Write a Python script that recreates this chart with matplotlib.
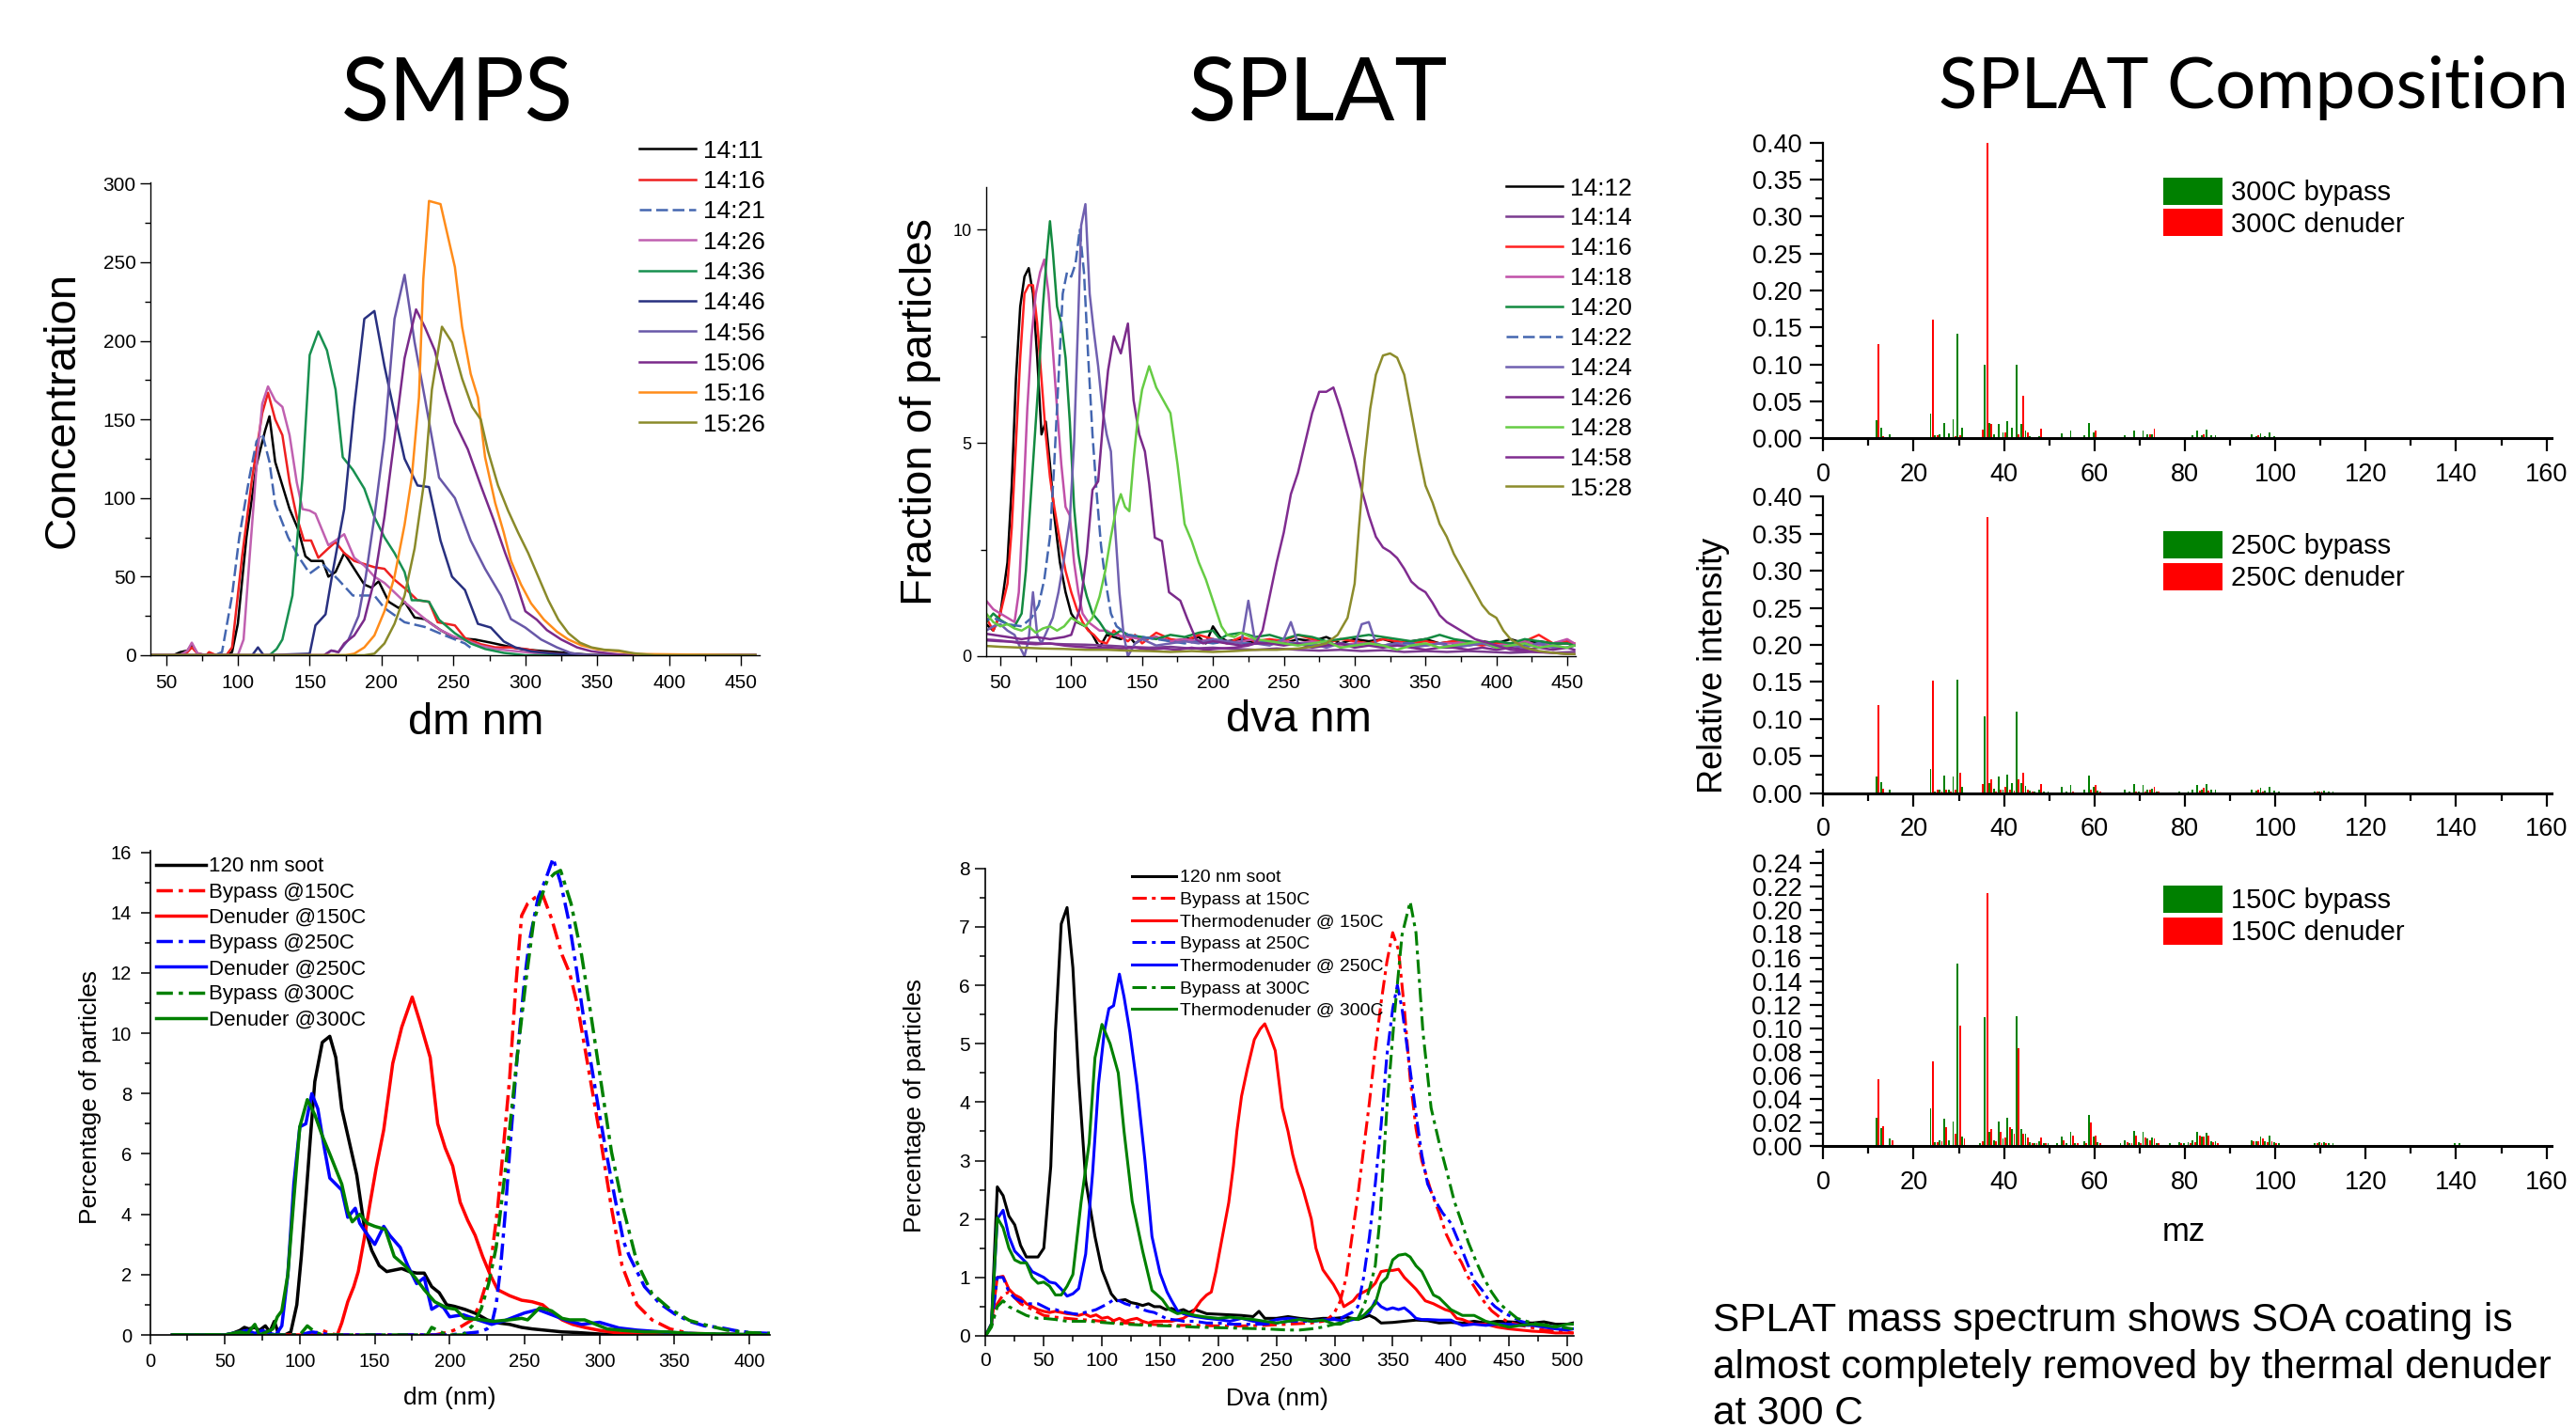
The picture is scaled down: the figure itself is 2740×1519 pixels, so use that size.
import numpy as np
import matplotlib
matplotlib.use("Agg")
import matplotlib.pyplot as plt
from matplotlib.ticker import MultipleLocator, FormatStrFormatter
from matplotlib.patches import Patch

plt.rcParams['font.family'] = ['Liberation Sans', 'DejaVu Sans']

# ======================= DATA =======================
# ---- SMPS (top-left): (dm nm, concentration) ----
smps_labels = ['14:11', '14:16', '14:21', '14:26', '14:36', '14:46', '14:56', '15:06', '15:16', '15:26']
smps_1411 = [(40,0),(55,0),(60,2),(65,3),(68,7),(72,1),(78,0),(92,0),(96,2),(100,20),(106,75),(113,121),(119,143),(122,152),
             (126,123),(131,108),(136,93),(142,80),(147,63),(151,60),(159,60),(163,50),(168,53),(174,65),(181,55),(188,45),
             (193,43),(198,47),(205,34),(212,30),(216,34),(223,24),(230,23),(241,16),(251,11),(265,10),(276,8),(286,6),
             (297,4),(308,3),(322,2),(335,1),(350,0),(460,0)]
smps_1416 = [(40,0),(60,0),(65,2),(68,5),(72,1),(78,0),(80,2),(85,0),(92,0),(96,5),(103,63),(110,113),(117,154),(121,167),
             (126,150),(131,140),(136,110),(141,88),(146,73),(151,73),(156,62),(163,68),(168,72),(174,65),(181,60),(188,58),
             (195,56),(202,55),(209,48),(217,42),(225,35),(233,34),(239,21),(251,19),(258,11),(269,7),(279,5),(289,5),
             (300,4),(311,2),(322,1),(334,0),(460,0)]
smps_1421 = [(40,0),(84,0),(89,2),(96,38),(101,75),(108,113),(113,136),(117,141),(122,123),(126,96),(135,75),(142,63),
             (150,52),(159,58),(170,48),(180,38),(188,38),(195,38),(202,30),(216,21),(230,18),(244,12.6),(258,7.5),(263,4)]
smps_1426 = [(40,0),(60,0),(65,3),(68,8),(72,1),(80,0),(100,0),(104,10),(108,60),(113,120),(117,160),(121,171),(126,162),
             (131,158),(136,140),(141,110),(145,93),(150,92),(154,90),(163,70),(168,73),(174,77),(181,62),(188,57),(195,50),
             (202,46),(209,40),(217,33),(225,27),(233,21),(241,16),(250,12),(260,9),(269,6),(279,4),(289,3),(300,2),(320,0),(460,0)]
smps_1436 = [(40,0),(122,0),(127,4),(131,10),(138,38),(145,113),(150,191),(156,206),(162,194),(168,169),(173,126),(180,118),
             (188,106),(195,88),(202,75),(209,65),(216,53),(221,35),(226,35),(233,34),(240,22.6),(251,14),(262,7.5),(272,4),
             (285,1.5),(300,0),(460,0)]
smps_1446 = [(40,0),(110,0),(114,5),(118,0),(150,1),(154,19),(161,26),(166,53),(174,93),(181,158),(188,214),(195,219),
             (202,184),(209,154),(216,125),(225,108),(233,107),(241,73),(249,50),(258,41.5),(267,20),(276,17.6),(285,8.8),
             (293,5),(304,2.5),(320,1),(340,0),(460,0)]
smps_1456 = [(40,0),(160,0),(165,3),(170,2),(177,10),(184,25),(189,50),(195,88),(202,138),(209,214),(216,242),(223,199),
             (230,164),(240,113),(251,100),(262,73),(272,55),(283,38),(290,23),(300,17.6),(311,10),(322,5),(332,1.3),(345,0),(460,0)]
smps_1506 = [(40,0),(160,0),(165,3),(170,2),(174,7.5),(181,12.6),(188,22.6),(195,48),(202,88),(209,138),(216,189),(224,220),
             (230,209),(237,194),(244,169),(251,148),(260,131),(269,108),(278,86),(286,65),(293,48),(300,28),(308,22.6),
             (315,16),(325,10),(336,5),(346,2.5),(357,1.3),(370,0),(460,0)]
smps_1516 = [(40,0),(175,0),(181,1),(188,5),(195,12.6),(202,28),(209,50),(216,83),(221,113),(226,164),(229,239),(233,289),
             (241,287),(246,267),(251,247),(256,209),(262,179),(267,164),(272,126),(279,97),(285,78),(290,60),(297,45),
             (304,33),(313,22.6),(322,15),(330,10),(339,6.3),(350,3.8),(364,2.5),(378,0.8),(460,0)]
smps_1526 = [(40,0),(188,0),(195,1),(202,7.5),(209,20),(216,38),(223,68),(230,113),(235,169),(242,209),(249,199),(256,176),
             (263,158),(269,150),(274,130),(281,108),(288,92),(295,78),(302,65),(309,50),(316,35),(323,22.6),(330,14),
             (338,8),(346,5),(355,3.5),(365,3),(375,1.3),(390,0),(460,0)]

# ---- SPLAT (top-middle): (dva nm, fraction of particles) ----
splat_labels = ['14:12', '14:14', '14:16', '14:18', '14:20', '14:22', '14:24', '14:26', '14:28', '14:58', '15:28']
splat_1412 = [(35,0.65),(40,0.75),(45,0.6),(50,1.0),(55,2.2),(58,4.0),(61,6.5),(64,8.2),(67,8.9),(70,9.1),(73,8.5),(76,7.0),
              (79,5.2),(82,5.5),(85,4.5),(88,3.3),(92,2.2),(96,1.5),(100,1.0),(104,0.8),(110,0.7),(115,0.5),(120,0.2),(125,0.5),
              (130,0.45),(135,0.4),(140,0.5),(145,0.3),(150,0.4),(160,0.45),(170,0.35),(180,0.4),(190,0.45),(195,0.3),(200,0.7),
              (205,0.45),(210,0.35),(220,0.4),(230,0.3),(240,0.35),(250,0.3),(260,0.4),(270,0.35),(280,0.45),(290,0.3),(300,0.4),
              (310,0.35),(320,0.4),(330,0.3),(340,0.35),(350,0.4),(360,0.3),(370,0.35),(380,0.3),(390,0.35),(400,0.3),(410,0.4),
              (420,0.3),(430,0.35),(440,0.3),(450,0.3),(455,0.25)]
splat_1414 = [(35,0.38),(50,0.35),(65,0.33),(80,0.3),(95,0.28),(110,0.27),(125,0.25),(140,0.22),(155,0.2),(170,0.22),(185,0.18),
              (200,0.2),(215,0.17),(230,0.15),(245,0.18),(260,0.15),(275,0.13),(290,0.15),(305,0.12),(320,0.14),(335,0.1),
              (350,0.12),(365,0.1),(380,0.12),(395,0.1),(410,0.08),(425,0.1),(440,0.08),(455,0.1)]
splat_1416 = [(35,1.2),(40,0.9),(45,0.6),(50,1.0),(55,1.7),(58,3.0),(61,5.0),(64,7.0),(67,8.5),(70,8.7),(73,8.7),(76,7.8),
              (79,6.5),(82,5.2),(85,4.2),(88,3.5),(92,2.7),(96,2.0),(100,1.5),(104,1.1),(108,0.8),(112,0.6),(116,0.5),(120,0.35),
              (125,0.3),(130,0.6),(135,0.45),(140,0.35),(145,0.5),(150,0.3),(160,0.55),(170,0.4),(180,0.35),(190,0.5),(200,0.4),
              (210,0.3),(220,0.45),(230,0.35),(240,0.4),(250,0.35),(260,0.5),(270,0.4),(280,0.3),(290,0.4),(300,0.35),(310,0.3),
              (320,0.4),(330,0.35),(340,0.3),(350,0.35),(360,0.3),(370,0.35),(380,0.3),(390,0.25),(400,0.3),(410,0.3),(420,0.35),
              (430,0.5),(440,0.3),(450,0.35),(455,0.3)]
splat_1418 = [(35,1.4),(40,1.3),(45,1.1),(50,1.0),(55,0.9),(60,0.8),(63,1.5),(66,3.5),(69,5.8),(72,7.5),(75,8.5),(78,9.0),
              (81,9.3),(84,8.5),(87,7.2),(90,5.8),(93,4.5),(96,3.5),(99,3.3),(102,2.2),(105,1.5),(108,1.0),(112,0.8),(116,0.7),
              (120,0.6),(125,0.6),(130,0.5),(140,0.45),(150,0.4),(160,0.45),(170,0.35),(180,0.4),(190,0.35),(200,0.4),(210,0.3),
              (220,0.35),(230,0.4),(240,0.3),(250,0.35),(260,0.3),(270,0.35),(280,0.3),(290,0.25),(300,0.3),(310,0.3),(320,0.25),
              (330,0.3),(340,0.3),(350,0.25),(360,0.3),(370,0.3),(380,0.35),(390,0.3),(400,0.25),(410,0.3),(420,0.35),(430,0.25),
              (440,0.3),(450,0.4),(455,0.3)]
splat_1420 = [(35,0.7),(40,0.8),(45,1.0),(50,0.85),(55,0.75),(60,0.7),(65,1.0),(68,2.0),(71,3.5),(74,5.0),(77,6.5),(80,8.2),
              (83,9.5),(85,10.2),(87,9.5),(90,8.2),(93,7.8),(96,7.0),(99,5.5),(102,3.5),(105,2.4),(108,1.8),(111,1.4),(115,1.0),
              (120,0.8),(125,0.55),(130,0.5),(135,0.6),(140,0.5),(150,0.45),(160,0.4),(170,0.5),(180,0.45),(190,0.55),(200,0.6),
              (205,0.4),(210,0.5),(220,0.55),(230,0.45),(240,0.5),(250,0.4),(260,0.5),(270,0.45),(280,0.35),(290,0.4),(300,0.45),
              (310,0.5),(320,0.45),(330,0.4),(340,0.35),(350,0.4),(360,0.5),(370,0.4),(380,0.35),(390,0.3),(400,0.35),(410,0.3),
              (420,0.4),(430,0.35),(440,0.3),(450,0.3),(455,0.25)]
splat_1422 = [(35,0.8),(45,0.9),(55,0.75),(65,0.7),(72,0.9),(77,1.2),(81,1.8),(85,2.8),(88,4.5),(91,6.5),(94,8.5),(97,9.0),
              (100,8.9),(103,9.2),(106,10.0),(109,9.0),(112,7.0),(115,5.2),(118,3.8),(121,2.6),(124,1.8),(128,1.0),(132,0.7),
              (136,0.6),(140,0.5),(150,0.45),(160,0.4),(170,0.35),(180,0.3),(190,0.35),(200,0.3),(210,0.35),(220,0.3),(230,0.3),
              (240,0.35),(250,0.3),(260,0.3),(270,0.25),(280,0.3),(290,0.3),(300,0.25),(310,0.3),(320,0.25),(330,0.3),(340,0.3),
              (350,0.25),(360,0.3),(370,0.25),(380,0.25),(390,0.3),(400,0.25),(410,0.2),(420,0.25),(430,0.3),(440,0.25),
              (450,0.2),(455,0.25)]
splat_1424 = [(35,0.8),(40,0.6),(45,0.7),(50,0.75),(55,0.6),(60,0.5),(64,0.2),(67,0.0),(70,0.4),(73,1.5),(76,0.5),(79,0.3),
              (83,0.6),(87,0.9),(91,1.5),(95,2.3),(99,3.2),(102,5.0),(105,8.0),(107,10.1),(110,10.6),(113,8.5),(116,7.6),
              (119,6.8),(122,5.8),(125,5.2),(128,4.8),(131,3.0),(134,1.5),(137,0.5),(140,0.0),(145,0.3),(150,0.4),(160,0.25),
              (170,0.3),(180,0.35),(190,0.3),(200,0.4),(210,0.35),(220,0.3),(225,1.3),(230,0.3),(240,0.25),(250,0.4),(255,0.8),
              (260,0.3),(270,0.3),(280,0.2),(290,0.3),(300,0.25),(305,0.75),(310,0.8),(315,0.3),(320,0.25),(330,0.3),(340,0.2),
              (350,0.25),(360,0.3),(370,0.2),(380,0.25),(390,0.3),(400,0.2),(410,0.25),(420,0.2),(430,0.3),(440,0.2),(450,0.2),
              (455,0.25)]
splat_1426 = [(35,0.55),(45,0.5),(55,0.45),(65,0.4),(75,0.45),(85,0.4),(95,0.45),(100,0.5),(106,1.1),(111,2.4),(115,3.9),
              (119,4.1),(123,5.7),(126,6.7),(130,7.5),(135,7.1),(140,7.8),(144,6.0),(148,5.2),(152,4.8),(155,4.05),(159,2.78),
              (164,2.7),(169,1.5),(173,1.4),(177,1.3),(182,0.87),(188,0.4),(193,0.3),(200,0.35),(210,0.3),(220,0.25),(230,0.3),
              (240,0.3),(250,0.25),(260,0.3),(270,0.2),(280,0.25),(290,0.3),(300,0.2),(310,0.25),(320,0.2),(330,0.25),(340,0.2),
              (350,0.15),(360,0.2),(370,0.2),(380,0.15),(390,0.2),(400,0.15),(410,0.2),(420,0.15),(430,0.2),(440,0.15),(450,0.2),
              (455,0.15)]
splat_1428 = [(35,1.2),(40,1.0),(45,0.8),(50,0.7),(55,0.75),(60,0.65),(65,0.6),(70,0.7),(75,0.55),(80,0.65),(85,0.7),(90,0.6),
              (95,0.7),(100,0.9),(105,0.8),(110,0.7),(115,0.9),(120,1.4),(124,2.0),(128,2.8),(132,3.5),(135,3.8),(138,3.5),
              (141,3.4),(144,4.6),(147,5.6),(150,6.25),(155,6.8),(160,6.3),(165,6.0),(170,5.7),(175,4.5),(180,3.1),(185,2.7),
              (190,2.2),(195,1.8),(200,1.3),(206,0.7),(210,0.5),(215,0.45),(220,0.55),(230,0.4),(240,0.35),(250,0.3),(260,0.25),
              (270,0.3),(280,0.35),(290,0.2),(300,0.25),(310,0.3),(320,0.25),(330,0.15),(340,0.25),(350,0.3),(360,0.2),(370,0.25),
              (380,0.3),(390,0.35),(400,0.2),(410,0.25),(420,0.3),(430,0.2),(440,0.25),(450,0.2),(455,0.25)]
splat_1458 = [(35,0.4),(45,0.38),(55,0.35),(65,0.3),(75,0.28),(85,0.3),(95,0.25),(105,0.22),(115,0.2),(125,0.2),(135,0.18),
              (145,0.2),(155,0.15),(165,0.18),(175,0.15),(185,0.2),(195,0.15),(205,0.18),(215,0.2),(225,0.25),(230,0.3),(235,0.6),
              (240,1.4),(245,2.2),(250,2.9),(255,3.8),(260,4.3),(265,5.0),(270,5.7),(275,6.2),(280,6.2),(285,6.3),(290,5.8),
              (295,5.2),(300,4.6),(305,3.9),(310,3.3),(315,2.8),(320,2.55),(325,2.45),(330,2.3),(335,2.05),(340,1.75),(345,1.6),
              (350,1.5),(355,1.25),(360,0.96),(365,0.8),(370,0.7),(375,0.6),(380,0.5),(385,0.4),(390,0.35),(400,0.25),(410,0.15),
              (420,0.12),(430,0.1),(440,0.08),(450,0.05),(455,0.05)]
splat_1528 = [(35,0.25),(50,0.22),(65,0.2),(80,0.18),(95,0.17),(110,0.15),(125,0.15),(140,0.13),(155,0.12),(170,0.1),(185,0.12),
              (200,0.1),(215,0.12),(230,0.15),(245,0.15),(260,0.18),(270,0.22),(280,0.3),(288,0.5),(295,0.9),(300,1.7),(303,3.0),
              (307,4.6),(311,5.8),(315,6.6),(320,7.05),(325,7.1),(330,7.0),(335,6.6),(340,5.7),(345,4.8),(350,4.0),(355,3.6),
              (360,3.1),(365,2.8),(370,2.4),(375,2.1),(380,1.8),(385,1.5),(390,1.2),(395,1.0),(400,0.9),(405,0.6),(410,0.4),
              (415,0.3),(420,0.2),(430,0.12),(440,0.08),(450,0.05),(455,0.05)]

# ---- Bottom-left: SMPS thermodenuder (dm nm, percentage of particles) ----
bl_labels = ['120 nm soot', 'Bypass @150C', 'Denuder @150C', 'Bypass @250C', 'Denuder @250C', 'Bypass @300C', 'Denuder @300C']
bl_soot = [(15,0),(50,0),(55,0.05),(60,0.15),(63,0.25),(66,0.2),(70,0.25),(73,0.15),(77,0.3),(80,0.1),(83,0.45),(86,0.0),
           (90,0.0),(94,0.1),(98,1.0),(101,2.6),(104,4.5),(107,6.5),(110,8.4),(115,9.7),(120,9.9),(124,9.2),(128,7.5),(133,6.4),
           (138,5.3),(143,3.6),(148,2.8),(153,2.3),(158,2.1),(163,2.15),(168,2.2),(173,2.1),(178,2.05),(183,2.05),(188,1.6),
           (193,1.4),(198,1.0),(203,0.95),(210,0.85),(218,0.7),(225,0.5),(232,0.4),(240,0.35),(248,0.25),(255,0.2),(265,0.15),
           (275,0.1),(285,0.08),(300,0.03),(320,0),(414,0)]
bl_byp150 = [(15,0),(100,0),(110,0.05),(115,0.15),(120,0.05),(125,0),(190,0),(200,0.1),(205,0.2),(210,0.35),(215,0.5),
             (220,1.0),(225,1.8),(228,2.6),(232,4.2),(236,6.3),(240,8.5),(244,11.5),(248,13.9),(252,14.3),(257,14.5),(262,14.6),
             (268,13.8),(275,12.6),(280,12.0),(285,11.0),(292,9.0),(300,6.7),(308,4.2),(315,2.3),(325,1.0),(335,0.5),(347,0.2),
             (360,0.05),(380,0.03),(414,0.02)]
bl_den150 = [(15,0),(120,0),(125,0.0),(128,0.4),(132,1.1),(136,1.6),(139,2.1),(143,3.2),(147,4.4),(151,5.55),(156,6.8),
             (162,9.0),(168,10.2),(175,11.2),(180,10.4),(187,9.2),(192,7.0),(197,6.2),(202,5.6),(207,4.4),(212,3.8),(217,3.3),
             (222,2.6),(227,2.0),(232,1.5),(240,1.3),(248,1.15),(255,1.1),(262,1.0),(268,0.75),(275,0.5),(282,0.35),(290,0.25),
             (300,0.15),(310,0.08),(320,0.04),(330,0.02),(340,0),(414,0)]
bl_byp250 = [(15,0),(100,0),(108,0.1),(115,0.05),(120,0),(200,0),(210,0.05),(220,0.1),(225,0.2),(228,0.35),(231,1.0),
             (234,2.25),(237,4.0),(240,6.06),(245,9.2),(250,11.8),(253,13.0),(259,14.5),(264,15.1),(269,15.8),(274,15.0),
             (280,13.6),(285,12.0),(290,10.3),(295,8.8),(300,7.3),(305,5.9),(310,4.6),(316,3.1),(320,2.6),(330,1.6),(340,1.05),
             (350,0.7),(360,0.45),(370,0.3),(380,0.25),(390,0.15),(400,0.08),(414,0.05)]
bl_den250 = [(15,0),(50,0),(55,0.05),(60,0.1),(65,0.15),(70,0.05),(75,0.15),(80,0.05),(84,0.0),(88,0.3),(92,2.0),(96,5.0),
             (100,6.9),(104,7.0),(108,8.0),(112,7.5),(116,6.3),(120,5.2),(124,5.0),(128,4.8),(132,3.9),(137,4.2),(140,3.7),
             (144,3.4),(150,3.0),(156,3.6),(160,3.3),(167,2.9),(172,2.3),(178,1.7),(183,1.9),(188,0.85),(193,1.0),(196,0.9),
             (200,0.6),(209,0.67),(220,0.48),(228,0.35),(237,0.48),(250,0.73),(259,0.84),(268,0.67),(278,0.48),(288,0.35),
             (300,0.42),(313,0.23),(325,0.16),(347,0.08),(370,0.03),(414,0)]
bl_byp300 = [(15,0),(100,0),(105,0.3),(110,0.1),(115,0),(185,0),(188,0.25),(192,0.15),(196,0.05),(200,0.0),(209,0.0),
             (215,0.3),(221,0.86),(226,1.7),(231,2.9),(237,5.4),(241,7.3),(245,9.2),(251,11.8),(256,13.7),(261,14.5),
             (265,15.05),(270,15.3),(274,15.4),(281,14.3),(288,12.6),(294,10.7),(300,8.7),(308,6.06),(316,4.16),(325,2.4),
             (335,1.37),(347,0.86),(360,0.48),(373,0.3),(385,0.16),(398,0.08),(414,0.05)]
bl_den300 = [(15,0),(50,0),(55,0.05),(60,0.1),(65,0.05),(70,0.35),(73,0.0),(78,0.1),(82,0.2),(85,0.6),(88,0.8),(92,2.0),
             (96,4.5),(100,6.9),(105,7.8),(110,7.3),(115,6.6),(120,6.0),(128,5.0),(132,4.1),(135,3.75),(140,4.0),(145,3.7),
             (150,3.6),(157,3.5),(163,2.6),(170,2.3),(177,1.9),(183,1.5),(190,1.1),(198,0.9),(204,0.85),(210,0.55),(222,0.5),
             (229,0.45),(240,0.5),(248,0.55),(252,0.5),(260,0.9),(268,0.8),(275,0.55),(280,0.5),(290,0.5),(300,0.3),(305,0.2),
             (315,0.15),(330,0.1),(345,0.1),(360,0.05),(414,0)]

# ---- Bottom-middle: SPLAT thermodenuder (Dva nm, percentage of particles) ----
bm_labels = ['120 nm soot', 'Bypass at 150C', 'Thermodenuder @ 150C', 'Bypass at 250C',
             'Thermodenuder @ 250C', 'Bypass at 300C', 'Thermodenuder @ 300C']
bm_soot = [(0,0),(5,0.2),(10,2.55),(15,2.4),(20,2.05),(25,1.9),(30,1.55),(35,1.35),(40,1.35),(45,1.35),(50,1.5),(56,2.9),
           (60,5.2),(65,7.05),(70,7.33),(75,6.3),(80,4.4),(86,2.66),(94,1.7),(100,1.13),(108,0.72),(113,0.6),(120,0.62),
           (125,0.57),(130,0.55),(135,0.52),(140,0.55),(145,0.5),(150,0.5),(155,0.45),(160,0.47),(165,0.42),(170,0.45),
           (175,0.4),(180,0.45),(190,0.38),(200,0.37),(210,0.36),(220,0.35),(230,0.33),(235,0.42),(240,0.3),(250,0.3),
           (260,0.33),(270,0.3),(280,0.28),(290,0.3),(300,0.3),(310,0.32),(320,0.28),(330,0.35),(335,0.3),(340,0.22),
           (350,0.23),(360,0.25),(370,0.27),(380,0.26),(390,0.22),(400,0.23),(410,0.22),(420,0.25),(430,0.22),(440,0.25),
           (450,0.24),(460,0.23),(470,0.22),(480,0.24),(490,0.2),(500,0.2),(505,0.22)]
bm_byp150 = [(0,0),(5,0.2),(10,0.55),(15,0.7),(20,0.75),(25,0.65),(30,0.55),(35,0.5),(40,0.45),(45,0.4),(50,0.35),(60,0.32),
             (70,0.3),(80,0.28),(90,0.27),(100,0.25),(120,0.22),(140,0.2),(160,0.18),(180,0.18),(200,0.17),(220,0.17),
             (240,0.18),(260,0.2),(280,0.22),(290,0.25),(295,0.3),(300,0.4),(305,0.6),(310,1.0),(315,1.7),(320,2.4),(325,3.2),
             (330,4.0),(335,4.9),(340,5.7),(345,6.4),(350,6.9),(355,6.6),(360,5.6),(365,4.4),(370,3.55),(375,3.0),(383,2.47),
             (390,2.1),(396,1.74),(403,1.45),(409,1.26),(415,1.0),(422,0.78),(428,0.6),(435,0.43),(442,0.32),(449,0.24),
             (460,0.18),(470,0.14),(480,0.1),(490,0.08),(500,0.06),(505,0.05)]
bm_den150 = [(0,0),(5,0.2),(10,1.0),(15,1.02),(20,0.8),(25,0.7),(30,0.65),(35,0.55),(40,0.5),(45,0.45),(50,0.42),(55,0.4),
             (60,0.42),(65,0.4),(70,0.38),(75,0.37),(80,0.35),(85,0.38),(90,0.33),(95,0.36),(100,0.3),(105,0.32),(110,0.26),
             (115,0.3),(120,0.25),(125,0.28),(130,0.3),(135,0.25),(140,0.22),(145,0.25),(150,0.25),(160,0.25),(170,0.3),
             (178,0.4),(185,0.6),(190,0.7),(194,0.75),(198,1.1),(203,1.64),(209,2.28),(213,2.9),(216,3.5),(220,4.1),(225,4.57),
             (231,5.07),(236,5.25),(240,5.34),(245,5.1),(249,4.88),(255,3.9),(260,3.5),(264,3.1),(268,2.8),(273,2.5),(280,2.0),
             (284,1.5),(290,1.13),(299,0.88),(304,0.7),(308,0.5),(312,0.55),(316,0.6),(320,0.7),(325,0.75),(330,0.8),(335,0.9),
             (340,1.1),(345,1.12),(350,1.12),(355,1.14),(360,1.0),(365,0.9),(370,0.8),(378,0.6),(385,0.55),(390,0.5),
             (395,0.45),(400,0.42),(405,0.3),(410,0.28),(420,0.2),(430,0.2),(440,0.15),(450,0.12),(460,0.1),(470,0.08),
             (480,0.07),(490,0.05),(500,0.05),(505,0.05)]
bm_byp250 = [(0,0),(5,0.2),(10,1.0),(15,1.0),(20,0.75),(25,0.65),(30,0.6),(35,0.55),(40,0.55),(45,0.55),(50,0.5),(55,0.45),
             (60,0.45),(65,0.42),(70,0.4),(75,0.38),(80,0.37),(85,0.4),(90,0.42),(95,0.45),(100,0.5),(105,0.55),(110,0.62),
             (115,0.6),(120,0.55),(125,0.52),(130,0.5),(135,0.45),(140,0.42),(145,0.4),(150,0.35),(155,0.3),(160,0.28),
             (165,0.27),(170,0.25),(180,0.25),(190,0.22),(200,0.22),(210,0.2),(220,0.2),(230,0.2),(240,0.2),(250,0.22),
             (260,0.25),(270,0.25),(280,0.25),(290,0.27),(300,0.3),(305,0.3),(310,0.35),(315,0.4),(320,0.5),(325,1.0),(330,1.7),
             (335,2.6),(340,3.6),(345,4.8),(350,5.6),(354,6.0),(358,5.6),(362,5.0),(366,4.4),(370,3.8),(375,3.1),(380,2.6),
             (387,2.3),(393,2.1),(400,1.93),(407,1.6),(413,1.3),(420,0.95),(427,0.78),(433,0.6),(438,0.5),(445,0.4),(450,0.35),
             (460,0.25),(470,0.2),(480,0.18),(490,0.15),(500,0.12),(505,0.12)]
bm_den250 = [(0,0),(5,0.2),(10,2.0),(15,2.15),(20,1.7),(25,1.45),(30,1.35),(35,1.25),(40,1.1),(45,1.05),(50,1.0),(55,0.92),
             (60,0.9),(65,0.8),(70,0.68),(75,0.72),(80,0.81),(86,1.4),(92,2.8),(97,4.3),(102,5.2),(106,5.6),(110,5.65),(115,6.19),
             (119,5.8),(124,5.2),(130,4.3),(137,3.0),(143,1.7),(150,1.07),(156,0.75),(160,0.6),(165,0.43),(170,0.38),(175,0.35),
             (180,0.33),(190,0.3),(200,0.28),(210,0.25),(220,0.3),(230,0.25),(240,0.22),(250,0.28),(260,0.3),(270,0.28),
             (280,0.25),(290,0.27),(300,0.28),(310,0.25),(320,0.3),(325,0.35),(330,0.4),(335,0.6),(340,0.5),(345,0.45),
             (350,0.48),(355,0.45),(360,0.48),(365,0.4),(370,0.3),(375,0.28),(380,0.28),(390,0.27),(400,0.27),(405,0.22),
             (410,0.18),(420,0.2),(430,0.18),(440,0.2),(450,0.2),(460,0.18),(470,0.18),(480,0.15),(490,0.12),(500,0.1),(505,0.12)]
bm_byp300 = [(0,0),(5,0.15),(10,0.5),(15,0.6),(20,0.5),(25,0.45),(30,0.4),(35,0.35),(40,0.32),(45,0.3),(50,0.3),(60,0.28),
             (70,0.25),(80,0.25),(90,0.25),(100,0.23),(120,0.2),(140,0.18),(160,0.17),(180,0.15),(200,0.14),(220,0.13),
             (240,0.12),(260,0.1),(270,0.1),(280,0.12),(290,0.15),(300,0.2),(310,0.25),(320,0.3),(325,0.5),(330,0.8),(335,1.2),
             (339,2.0),(345,3.9),(352,5.6),(358,6.86),(365,7.43),(370,6.9),(376,5.2),(383,3.9),(390,3.3),(396,2.85),(403,2.3),
             (409,1.96),(415,1.6),(422,1.26),(428,1.0),(435,0.75),(442,0.55),(449,0.43),(457,0.3),(465,0.25),(475,0.2),
             (485,0.18),(495,0.15),(505,0.12)]
bm_den300 = [(0,0),(5,0.2),(10,2.02),(15,1.85),(20,1.5),(25,1.3),(30,1.25),(35,1.25),(40,1.0),(45,0.9),(50,0.92),(55,0.85),
             (60,0.7),(65,0.7),(70,0.85),(75,1.05),(82,2.28),(89,3.3),(94,4.76),(100,5.33),(107,5.0),(114,4.5),(119,3.5),
             (126,2.3),(135,1.45),(143,0.78),(152,0.62),(158,0.45),(165,0.38),(170,0.4),(180,0.35),(190,0.32),(200,0.3),
             (210,0.32),(220,0.3),(230,0.28),(240,0.25),(250,0.22),(260,0.25),(270,0.28),(280,0.25),(290,0.27),(300,0.2),
             (305,0.2),(310,0.25),(315,0.3),(320,0.28),(325,0.35),(330,0.45),(335,0.55),(340,0.9),(345,1.0),(350,1.3),(355,1.38),
             (361,1.4),(365,1.35),(370,1.2),(375,1.1),(380,0.9),(385,0.7),(390,0.65),(395,0.55),(400,0.45),(405,0.4),(410,0.35),
             (420,0.35),(425,0.3),(430,0.25),(440,0.2),(450,0.15),(460,0.18),(470,0.2),(480,0.18),(490,0.15),(500,0.2),(505,0.2)]

# ---- SPLAT composition mass spectra (right) ----
mz = list(range(12, 20)) + list(range(24, 102)) + list(range(109, 114)) + [125, 127, 140, 141]
ms_labels = [('300C bypass', '300C denuder'), ('250C bypass', '250C denuder'), ('150C bypass', '150C denuder')]
byp300 = ([.024,.015,.002,.006,.001,0,.001,0] +
          [.033,.004,.005,.021,.007,.026,.141,.015,.001,.001] + [.001,.002,.099,.021,.005,.020,.008,.023,.015,.100] +
          [.020,.011,.003,.001,.003,.002,.001,.001,.001,.007] + [.002,.011,.002,.001,.004,.021,.008,.002,.001,.001] +
          [.001,.001,.001,.004,.002,.010,.002,.010,.005,.006] + [.002,.001,.001,.001,.001,.002,.001,.002,.004,.011] +
          [.004,.012,.004,.004,.001,.001,.001,.001,.001,.001] + [.001,.005,.003,.007,.003,.008,.003,.002] +
          [.002,.001,.002,.001,.002] + [.001,.001,.001,.001])
den300 = ([.127,.003,0,.001,0,0,0,0] +
          [.161,.004,.002,.001,.001,.003,.004,.001,0,0] + [.001,.012,.400,.019,.001,.002,.008,.002,.002,.005] +
          [.058,.008,.002,.001,.013,.001,.001,0,0,.001] + [.001,.001,.001,0,.001,.002,.010,.002,.001,0] +
          [0,0,0,.001,.001,.001,.001,.002,.006,.013] + [.002,.001,0,0,.001,0,0,0,.001,.002] +
          [.006,.002,.001,0,0,0,0,0,0,0] + [0,.001,.004,.002,.001,.001,.001,0] +
          [0,.001,0,0,0] + [0,0,0,0])
byp250 = ([.022,.015,.001,.005,.001,0,.001,.001] +
          [.032,.002,.005,.024,.005,.022,.153,.009,.001,.001] + [.001,.001,.104,.013,.006,.022,.005,.025,.014,.110] +
          [.014,.010,.003,.002,.004,.002,.002,.001,.001,.008] + [.002,.011,.001,.001,.004,.024,.008,.003,.001,.001] +
          [.001,.001,.001,.004,.002,.012,.002,.011,.004,.006] + [.002,.001,.001,.001,.001,.002,.001,.002,.004,.011] +
          [.004,.012,.004,.004,.001,.001,.001,.001,.001,.001] + [.001,.005,.003,.007,.003,.008,.003,.002] +
          [.002,.002,.003,.002,.002] + [.001,.001,.001,.001])
den250 = ([.119,.006,.001,.001,0,0,0,0] +
          [.152,.004,.002,.004,.002,.004,.028,.001,0,0] + [0,.012,.372,.019,.002,.004,.008,.004,.003,.018] +
          [.028,.005,.002,.001,.012,.001,.001,0,0,.001] + [.001,.002,.001,0,.001,.004,.011,.002,.001,0] +
          [0,0,0,.001,.001,.002,.001,.002,.005,.009] + [.002,.001,0,0,.001,0,0,0,.001,.003] +
          [.007,.003,.001,0,0,0,0,0,0,0] + [0,.001,.004,.002,.001,.001,.001,0] +
          [.002,.002,.001,.001,.001] + [.001,.001,0,0])
byp150 = ([.024,.015,.001,.006,.001,.001,.001,.001] +
          [.032,.003,.005,.023,.005,.021,.155,.008,.001,.001] + [.001,.002,.109,.012,.005,.021,.006,.024,.014,.110] +
          [.014,.010,.003,.002,.004,.002,.002,.001,.002,.008] + [.002,.012,.002,.001,.004,.026,.008,.003,.001,.001] +
          [.001,.001,.002,.005,.002,.013,.003,.012,.006,.007] + [.002,.001,.001,.002,.001,.003,.002,.003,.005,.012] +
          [.008,.011,.004,.004,.001,.001,.001,.001,.001,.001] + [.001,.005,.004,.008,.004,.009,.003,.002] +
          [.002,.003,.003,.002,.002] + [.001,.001,.002,.002])
den150 = ([.057,.017,.001,.005,.001,.001,.001,.001] +
          [.072,.003,.004,.016,.001,.010,.102,.006,.001,.001] + [.001,.004,.215,.014,.004,.012,.007,.016,.010,.083] +
          [.010,.007,.002,.002,.007,.002,.001,.001,.001,.005] + [.001,.009,.002,.001,.002,.020,.009,.002,.001,.001] +
          [.001,.001,.001,.003,.002,.009,.002,.007,.005,.006] + [.002,.001,.001,.001,.001,.002,.001,.002,.003,.009] +
          [.008,.009,.003,.002,.001,.001,.001,.001,.001,.001] + [.001,.004,.004,.006,.003,.004,.002,.001] +
          [.002,.002,.002,.001,.001] + [.001,.001,.001,.001])

# ======================= FIGURE =======================
W, H = 2740, 1519
fig = plt.figure(figsize=(W / 100, H / 100), dpi=100)


def rect(l, r, t, b):
    return [l / W, 1 - b / H, (r - l) / W, (b - t) / H]


def fxy(x, y):
    return x / W, 1 - y / H


def style(ax, spine_lw, maj, mnr, tw, lsize, padx, pady):
    for s in ('top', 'right'):
        ax.spines[s].set_visible(False)
    for s in ('left', 'bottom'):
        ax.spines[s].set_linewidth(spine_lw)
    ax.tick_params(which='major', direction='out', length=maj, width=tw, labelsize=lsize)
    ax.tick_params(which='minor', direction='out', length=mnr, width=tw)
    ax.tick_params(axis='x', which='major', pad=padx)
    ax.tick_params(axis='y', which='major', pad=pady)


def xy(pts):
    return [p[0] for p in pts], [p[1] for p in pts]


# ---------- Titles ----------
fig.text(*fxy(486, 128), 'SMPS', fontsize=68, family=['Lato', 'DejaVu Sans'], ha='center', va='baseline')
fig.text(*fxy(1402, 128), 'SPLAT', fontsize=68, family=['Lato', 'DejaVu Sans'], ha='center', va='baseline')
fig.text(*fxy(2397, 115), 'SPLAT Composition', fontsize=55, family=['Lato', 'DejaVu Sans'], ha='center', va='baseline')

# ---------- Top-left SMPS ----------
ax1 = fig.add_axes(rect(160.3, 808, 193.7, 697))
smps_series = [smps_1411, smps_1416, smps_1421, smps_1426, smps_1436, smps_1446, smps_1456, smps_1506, smps_1516, smps_1526]
smps_colors = ['#000000', '#ee2020', '#4466b0', '#c060b0', '#189050', '#283080', '#6858a8', '#7a2a8a', '#ff8c1a', '#8a8a2a']
h1 = []
for pts, c, lab in zip(smps_series, smps_colors, smps_labels):
    x, y = xy(pts)
    ls = (0, (5, 2)) if lab == '14:21' else '-'
    ln, = ax1.plot(x, y, color=c, lw=1.8, ls=ls, label=lab)
    h1.append(ln)
ax1.set_xlim(39.4, 463)
ax1.set_ylim(0, 301)
ax1.xaxis.set_major_locator(MultipleLocator(50))
ax1.xaxis.set_minor_locator(MultipleLocator(25))
ax1.yaxis.set_major_locator(MultipleLocator(50))
ax1.yaxis.set_minor_locator(MultipleLocator(25))
style(ax1, 1.0, 8, 4.5, 1.0, 15, 6.5, 3.2)
ax1.legend(handles=h1, loc='upper left', bbox_to_anchor=fxy(679.5, 148.7), bbox_transform=fig.transFigure,
           frameon=False, fontsize=19, handlelength=2.3, handletextpad=0.3, labelspacing=0.315,
           borderpad=0, borderaxespad=0)
fig.text(*fxy(67, 436), 'Concentration', fontsize=34, rotation=90, ha='center', va='center')
fig.text(*fxy(506, 781), 'dm nm', fontsize=34, ha='center', va='baseline')

# ---------- Top-middle SPLAT ----------
ax2 = fig.add_axes(rect(1048.7, 1676, 199, 698))
splat_series = [splat_1412, splat_1414, splat_1416, splat_1418, splat_1420, splat_1422, splat_1424, splat_1426,
                splat_1428, splat_1458, splat_1528]
splat_colors = ['#000000', '#7a3b8f', '#ff2020', '#c050a8', '#138a40', '#4466b0', '#7060b0', '#7a2a8a',
                '#66cc44', '#802c90', '#8c8c2c']
h2 = []
for pts, c, lab in zip(splat_series, splat_colors, splat_labels):
    x, y = xy(pts)
    ls = (0, (5, 2)) if lab == '14:22' else '-'
    ln, = ax2.plot(x, y, color=c, lw=1.8, ls=ls, label=lab)
    h2.append(ln)
ax2.set_xlim(39.8, 456)
ax2.set_ylim(0, 11.0)
ax2.xaxis.set_major_locator(MultipleLocator(50))
ax2.xaxis.set_minor_locator(MultipleLocator(25))
ax2.yaxis.set_major_locator(MultipleLocator(5))
ax2.yaxis.set_minor_locator(MultipleLocator(2.5))
style(ax2, 1.0, 7, 4, 1.0, 15, 7, 4)
ax2.tick_params(axis='y', labelsize=13)
ax2.legend(handles=h2, loc='upper left', bbox_to_anchor=fxy(1601.7, 188.5), bbox_transform=fig.transFigure,
           frameon=False, fontsize=19, handlelength=2.3, handletextpad=0.3, labelspacing=0.30,
           borderpad=0, borderaxespad=0)
fig.text(*fxy(979, 438), 'Fraction of particles', fontsize=34, rotation=90, ha='center', va='center')
fig.text(*fxy(1381, 778), 'dva nm', fontsize=34, ha='center', va='baseline')

# ---------- Bottom-left SMPS thermodenuder ----------
DD = (0, (5, 1.8, 1.3, 1.8))
ax3 = fig.add_axes(rect(159.5, 818.8, 905, 1420))
bl_series = [bl_soot, bl_byp150, bl_den150, bl_byp250, bl_den250, bl_byp300, bl_den300]
bl_colors = ['#000000', '#ff0000', '#ff0000', '#0000ff', '#0000ff', '#008000', '#008000']
bl_styles = ['-', DD, '-', DD, '-', DD, '-']
h3 = []
for pts, c, s, lab in zip(bl_series, bl_colors, bl_styles, bl_labels):
    x, y = xy(pts)
    ln, = ax3.plot(x, y, color=c, lw=2.5, ls=s, label=lab)
    h3.append(ln)
ax3.set_xlim(0, 413.6)
ax3.set_ylim(0, 16.05)
ax3.xaxis.set_major_locator(MultipleLocator(50))
ax3.xaxis.set_minor_locator(MultipleLocator(25))
ax3.yaxis.set_major_locator(MultipleLocator(2))
ax3.yaxis.set_minor_locator(MultipleLocator(1))
style(ax3, 1.2, 7, 4, 1.1, 14.5, 7, 7)
ax3.legend(handles=h3, loc='upper left', bbox_to_anchor=fxy(165.5, 911.3), bbox_transform=fig.transFigure,
           frameon=False, fontsize=16, handlelength=2.4, handletextpad=0.16, labelspacing=0.28,
           borderpad=0, borderaxespad=0)
fig.text(*fxy(96.5, 1167), 'Percentage of particles', fontsize=19, rotation=90, ha='center', va='center')
fig.text(*fxy(478, 1487), 'dm (nm)', fontsize=19, ha='center', va='center')

# ---------- Bottom-middle SPLAT thermodenuder ----------
ax4 = fig.add_axes(rect(1048.4, 1674, 923.7, 1421))
bm_series = [bm_soot, bm_byp150, bm_den150, bm_byp250, bm_den250, bm_byp300, bm_den300]
h4 = []
for pts, c, s, lab in zip(bm_series, bl_colors, bl_styles, bm_labels):
    x, y = xy(pts)
    ln, = ax4.plot(x, y, color=c, lw=2.2, ls=s, label=lab)
    h4.append(ln)
ax4.set_xlim(0, 505.7)
ax4.set_ylim(0, 8.0)
ax4.xaxis.set_major_locator(MultipleLocator(50))
ax4.xaxis.set_minor_locator(MultipleLocator(25))
ax4.yaxis.set_major_locator(MultipleLocator(1))
ax4.yaxis.set_minor_locator(MultipleLocator(0.5))
style(ax4, 1.2, 8, 4, 1.1, 15, 4.3, 4)
ax4.legend(handles=h4, loc='upper left', bbox_to_anchor=fxy(1204, 924.7), bbox_transform=fig.transFigure,
           frameon=False, fontsize=14, handlelength=2.4, handletextpad=0.22, labelspacing=0.31,
           borderpad=0, borderaxespad=0)
fig.text(*fxy(973, 1176), 'Percentage of particles', fontsize=19, rotation=90, ha='center', va='center')
fig.text(*fxy(1358, 1488), 'Dva (nm)', fontsize=19, ha='center', va='center')

# ---------- Right: mass spectra ----------
ms_rects = [(151.8, 466.3, 0.40, 0.05), (528.4, 843.6, 0.40, 0.05), (904.0, 1219.0, 0.2514, 0.02)]
ms_data = [(byp300, den300), (byp250, den250), (byp150, den150)]
leg_tops = [188.6, 565.0, 941.7]
mzarr = np.array(mz)
for (t, b, ytop, ystep), (gv, rv), (lg, lr), lt in zip(ms_rects, ms_data, ms_labels, leg_tops):
    ax = fig.add_axes(rect(1939.3, 2714.4, t, b))
    ax.bar(mzarr - 0.25, gv, width=0.38, color='#008000', linewidth=0)
    ax.bar(mzarr + 0.25, rv, width=0.38, color='#ff0000', linewidth=0)
    ax.set_xlim(0, 161.2)
    ax.set_ylim(0, ytop)
    ax.xaxis.set_major_locator(MultipleLocator(20))
    ax.xaxis.set_minor_locator(MultipleLocator(10))
    ax.yaxis.set_major_locator(MultipleLocator(ystep))
    ax.yaxis.set_minor_locator(MultipleLocator(ystep / 2))
    ax.yaxis.set_major_formatter(FormatStrFormatter('%.2f'))
    style(ax, 1.6, 10, 6, 1.6, 19.5, 8.6, 6.5)
    ax.spines['bottom'].set_linewidth(2.2)
    ax.legend(handles=[Patch(facecolor='#008000', edgecolor='none', label=lg),
                       Patch(facecolor='#ff0000', edgecolor='none', label=lr)],
              loc='upper left', bbox_to_anchor=fxy(2300.8, lt), bbox_transform=fig.transFigure,
              frameon=False, fontsize=21, handlelength=2.16, handleheight=1.15, handletextpad=0.3,
              labelspacing=0.12, borderpad=0, borderaxespad=0)

fig.text(*fxy(1823, 708), 'Relative intensity', fontsize=26, rotation=90, ha='center', va='center')
fig.text(*fxy(2323, 1320), 'mz', fontsize=25, ha='center', va='baseline')

fig.text(*fxy(1822, 1416), 'SPLAT mass spectrum shows SOA coating is', fontsize=30.5, ha='left', va='baseline')
fig.text(*fxy(1822, 1466), 'almost completely removed by thermal denuder', fontsize=30.5, ha='left', va='baseline')
fig.text(*fxy(1822, 1515), 'at 300 C', fontsize=30.5, ha='left', va='baseline')

fig.savefig('out.png', dpi=100)
